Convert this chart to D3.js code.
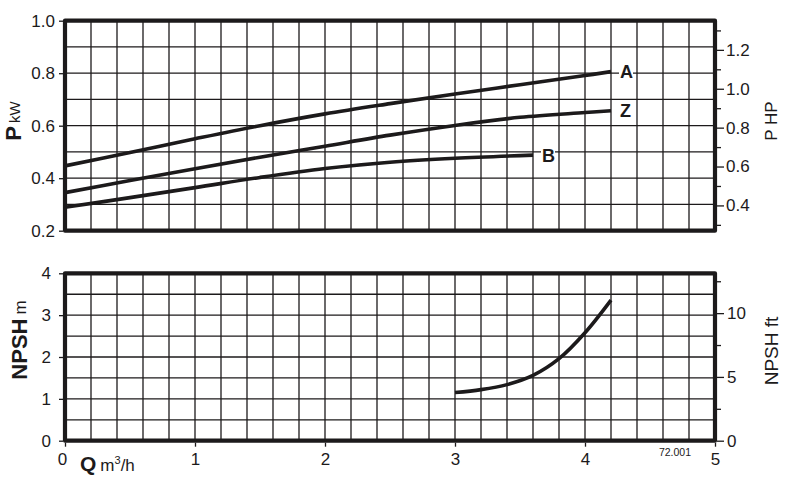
<!DOCTYPE html>
<html>
<head>
<meta charset="utf-8">
<script src="https://cdn.jsdelivr.net/npm/d3@7"></script>
<style>
  html, body { margin: 0; padding: 0; background: #fff; }
  svg { display: block; font-family: "Liberation Sans", Arial, sans-serif; }
</style>
</head>
<body>
<svg id="chart" width="796" height="482"></svg>
<script>
// ---- data ----
const qA = [0, 0.5, 1.0, 1.5, 2.0, 2.5, 3.0, 3.5, 4.0, 4.2];
const pA = [0.447, 0.498, 0.550, 0.600, 0.645, 0.684, 0.721, 0.756, 0.791, 0.806];
const qZ = [0, 0.5, 1.0, 1.5, 2.0, 2.5, 3.0, 3.5, 4.0, 4.2];
const pZ = [0.345, 0.391, 0.436, 0.480, 0.522, 0.564, 0.601, 0.632, 0.650, 0.657];
const qB = [0, 0.5, 1.0, 1.5, 2.0, 2.5, 3.0, 3.6];
const pB = [0.289, 0.326, 0.364, 0.403, 0.437, 0.461, 0.476, 0.488];
const qN = [3.0, 3.2, 3.4, 3.6, 3.8, 4.0, 4.2];
const npsh = [1.15, 1.22, 1.34, 1.56, 1.96, 2.58, 3.36];
const curveNames = ["A", "Z", "B"];
const xTicks = [0, 1, 2, 3, 4, 5];
const pTicks = [0.2, 0.4, 0.6, 0.8, 1.0];
const hpTicks = [0.4, 0.6, 0.8, 1.0, 1.2];
const hpMinor = [0.3, 0.5, 0.7, 0.9, 1.1, 1.3];
const nTicks = [0, 1, 2, 3, 4];
const ftTicks = [0, 5, 10];
const ftMinor = [2.5, 7.5, 12.5];
const HP_PER_KW = 1.35;
const M_TO_FT = 3.2808;

// ---- layout ----
const svg = d3.select("#chart");
const ink = "#1c1a1b";
const x = d3.scaleLinear().domain([0, 5]).range([65, 715]);
const yP = d3.scaleLinear().domain([0.2, 1.0]).range([230.7, 20.7]);
const yN = d3.scaleLinear().domain([0, 4]).range([440.7, 273.3]);

function panel(y, yStep) {
  const g = svg.append("g");
  const xs = d3.range(0, 5.0001, 0.2);
  const [d0, d1] = y.domain();
  const ys = d3.range(d0, d1 + 1e-6, yStep);
  g.selectAll(".vx").data(xs).join("line")
    .attr("x1", d => x(d)).attr("x2", d => x(d))
    .attr("y1", y(d1)).attr("y2", y(d0))
    .attr("stroke", ink).attr("stroke-width", 1.3);
  g.selectAll(".hy").data(ys).join("line")
    .attr("x1", x(0)).attr("x2", x(5))
    .attr("y1", d => y(d)).attr("y2", d => y(d))
    .attr("stroke", ink).attr("stroke-width", 1.3);
  return g;
}

function frame(y) {
  const [d0, d1] = y.domain();
  svg.append("rect")
    .attr("x", x(0)).attr("y", y(d1))
    .attr("width", x(5) - x(0)).attr("height", y(d0) - y(d1))
    .attr("fill", "none").attr("stroke", ink).attr("stroke-width", 4.2)
    .attr("stroke-linejoin", "round");
}

panel(yP, 0.1);
panel(yN, 0.5);

// ---- curves ----
const smooth = d3.curveCatmullRom.alpha(0.5);
const lineP = d3.line().x(d => x(d[0])).y(d => yP(d[1])).curve(smooth);
const lineN = d3.line().x(d => x(d[0])).y(d => yN(d[1])).curve(smooth);
const series = [
  { name: curveNames[0], q: qA, p: pA },
  { name: curveNames[1], q: qZ, p: pZ },
  { name: curveNames[2], q: qB, p: pB }
];
series.forEach(s => {
  const pts = s.q.map((q, i) => [q, s.p[i]]);
  svg.append("path").attr("d", lineP(pts))
    .attr("fill", "none").attr("stroke", ink).attr("stroke-width", 3.6)
    .attr("stroke-linecap", "butt");
  const last = pts[pts.length - 1];
  const lx = x(last[0]) + 8, ly = yP(last[1]);
  svg.append("rect").attr("x", lx).attr("y", ly - 9).attr("width", 14).attr("height", 18).attr("fill", "#fff");
  svg.append("text").attr("x", lx + 1).attr("y", ly + 6.5)
    .attr("font-size", 18).attr("font-weight", "bold").attr("fill", ink).text(s.name);
});
svg.append("path").attr("d", lineN(qN.map((q, i) => [q, npsh[i]])))
  .attr("fill", "none").attr("stroke", ink).attr("stroke-width", 3.6);

frame(yP);
frame(yN);

// ---- axes ----
svg.append("g").attr("transform", `translate(${x(0) - 2},0)`)
  .call(d3.axisLeft(yP).tickValues(pTicks).tickFormat(d3.format(".1f")).tickSize(4).tickPadding(4));
const yHP = d3.scaleLinear().domain([0.2 * HP_PER_KW, 1.0 * HP_PER_KW]).range(yP.range());
svg.append("g").attr("transform", `translate(${x(5) + 2},0)`)
  .call(d3.axisRight(yHP).tickValues(hpTicks).tickFormat(d3.format(".1f")).tickSize(7).tickPadding(2));
svg.append("g").attr("transform", `translate(${x(5) + 2},0)`)
  .call(d3.axisRight(yHP).tickValues(hpMinor).tickFormat("").tickSize(4));
svg.append("g").attr("transform", `translate(${x(0) - 2},0)`)
  .call(d3.axisLeft(yN).tickValues(nTicks).tickFormat(d3.format("d")).tickSize(4).tickPadding(8));
const yFt = d3.scaleLinear().domain([0, 4 * M_TO_FT]).range(yN.range());
svg.append("g").attr("transform", `translate(${x(5) + 2},0)`)
  .call(d3.axisRight(yFt).tickValues(ftTicks).tickFormat(d3.format("d")).tickSize(7).tickPadding(3));
svg.append("g").attr("transform", `translate(${x(5) + 2},0)`)
  .call(d3.axisRight(yFt).tickValues(ftMinor).tickFormat("").tickSize(4));
const gX = svg.append("g").attr("transform", `translate(0,${yN(0) + 2})`)
  .call(d3.axisBottom(x).tickValues(xTicks).tickFormat(d3.format("d")).tickSize(4).tickPadding(6));

svg.selectAll(".domain").remove();
svg.selectAll(".tick line").attr("stroke", ink).attr("stroke-width", 1.3);
svg.selectAll(".tick text").attr("font-size", 17).attr("fill", ink)
  .attr("font-family", "'Liberation Sans', Arial, sans-serif");
gX.selectAll(".tick text").filter(d => d === 0).attr("dx", -3);

// ---- titles ----
const tP = svg.append("text").attr("transform", "translate(21,121) rotate(-90)")
  .attr("text-anchor", "middle").attr("fill", ink);
tP.append("tspan").attr("font-size", 22).attr("font-weight", "bold").text("P");
tP.append("tspan").attr("font-size", 15).attr("dx", 3).attr("dy", -1).text("kW");

svg.append("text").attr("transform", "translate(777,121) rotate(-90)")
  .attr("text-anchor", "middle").attr("font-size", 17).attr("fill", ink).text("P HP");

const tN = svg.append("text").attr("transform", "translate(27,340) rotate(-90)")
  .attr("text-anchor", "middle").attr("fill", ink);
tN.append("tspan").attr("font-size", 22).attr("font-weight", "bold").text("NPSH");
tN.append("tspan").attr("font-size", 17).attr("dx", 4).attr("dy", -1).text("m");

svg.append("text").attr("transform", "translate(778,351) rotate(-90)")
  .attr("text-anchor", "middle").attr("font-size", 19).attr("fill", ink).text("NPSH ft");

const tQ = svg.append("text").attr("x", 80).attr("y", 471).attr("fill", ink);
tQ.append("tspan").attr("font-size", 21).attr("font-weight", "bold").text("Q");
tQ.append("tspan").attr("font-size", 17).attr("dx", 4).text("m");
tQ.append("tspan").attr("font-size", 11).attr("dy", -7).text("3");
tQ.append("tspan").attr("font-size", 17).attr("dy", 7).text("/h");

svg.append("text").attr("x", 675).attr("y", 456).attr("text-anchor", "middle")
  .attr("font-size", 10.5).attr("fill", ink).text("72.001");
</script>
</body>
</html>
